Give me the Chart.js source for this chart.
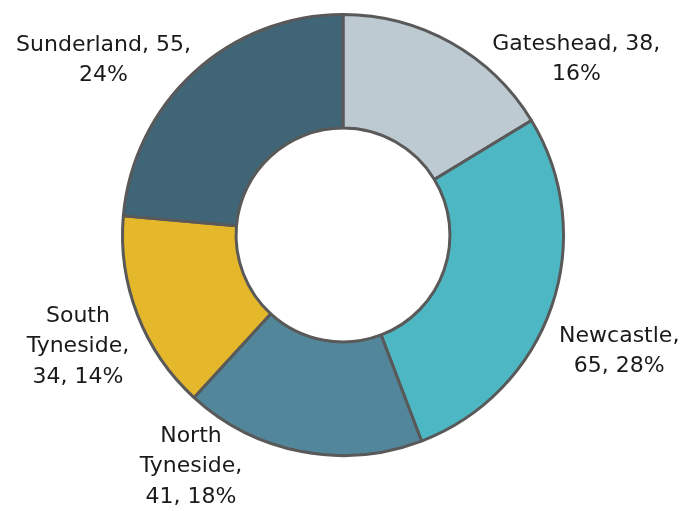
<!DOCTYPE html>
<html>
<head>
<meta charset="utf-8">
<script src="https://cdn.jsdelivr.net/npm/chart.js@4/dist/chart.umd.min.js"></script>
<style>
  html, body { margin: 0; padding: 0; background: #ffffff; }
  #wrap { width: 690px; height: 511px; position: relative; }
</style>
</head>
<body>
<div id="wrap"><canvas id="chart" width="690" height="511"></canvas></div>
<script>
// Boroughs and their counts
const categories = ['Gateshead', 'Newcastle', 'North Tyneside', 'South Tyneside', 'Sunderland'];
const counts = [38, 65, 41, 34, 55];
const percentLabels = ['16%', '28%', '18%', '14%', '24%'];
const sliceColors = ['#BDCAD2', '#4DB8C3', '#52869A', '#E5B72B', '#3F6577'];

// Label text broken into lines
const labelLines = [
  [categories[0] + ', ' + counts[0] + ',', percentLabels[0]],
  [categories[1] + ',', counts[1] + ', ' + percentLabels[1]],
  ['North', 'Tyneside,', counts[2] + ', ' + percentLabels[2]],
  ['South', 'Tyneside,', counts[3] + ', ' + percentLabels[3]],
  [categories[4] + ', ' + counts[4] + ',', percentLabels[4]]
];

// Where each label block sits: angle clockwise from 12 o'clock (deg), distance as multiple of outer radius
const labelAngles = [53.0, 112.8, 213.3, 247.2, 306.1];
const labelDistances = [1.325, 1.359, 1.256, 1.304, 1.344];

const FONT = '22px "DejaVu Sans", sans-serif';
const LINE_H = 30.5;

const outsideLabels = {
  id: 'outsideLabels',
  afterDatasetsDraw(chart) {
    const meta = chart.getDatasetMeta(0);
    const arc = meta.data[0];
    if (!arc) return;
    const cx = arc.x, cy = arc.y, r = arc.outerRadius;
    const ctx = chart.ctx;
    ctx.save();
    ctx.font = FONT;
    ctx.fillStyle = '#1A1A1A';
    ctx.textAlign = 'center';
    ctx.textBaseline = 'middle';
    labelLines.forEach((lines, i) => {
      const a = labelAngles[i] * Math.PI / 180;
      const d = r * labelDistances[i];
      const x = cx + d * Math.sin(a);
      const y = cy - d * Math.cos(a);
      const top = y - (lines.length - 1) * LINE_H / 2;
      lines.forEach((t, j) => ctx.fillText(t, x, top + j * LINE_H));
    });
    ctx.restore();
  }
};

new Chart(document.getElementById('chart'), {
  type: 'doughnut',
  data: {
    labels: categories,
    datasets: [{
      data: counts,
      backgroundColor: sliceColors,
      borderColor: '#595959',
      borderWidth: 3,
      hoverOffset: 0
    }]
  },
  options: {
    responsive: false,
    animation: false,
    cutout: '48.5%',
    layout: { padding: { left: 0, right: 4, top: 13, bottom: 54 } },
    plugins: {
      legend: { display: false },
      tooltip: { enabled: false }
    }
  },
  plugins: [outsideLabels]
});
</script>
</body>
</html>
